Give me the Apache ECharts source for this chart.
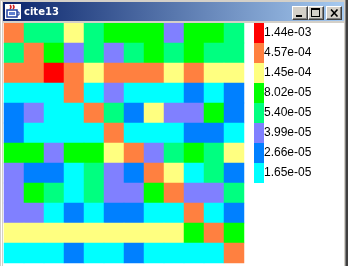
<!DOCTYPE html>
<html>
<head>
<meta charset="utf-8">
<script src="https://cdn.jsdelivr.net/npm/echarts@6/dist/echarts.min.js"></script>
<style>
  html, body { margin: 0; padding: 0; background: #ffffff; }
  #wrap { position: relative; width: 348px; height: 266px; overflow: hidden; background: #ffffff; }
  #chart { position: absolute; left: 0; top: 0; width: 348px; height: 266px; }
  .fr { position: absolute; }
  #title { position: absolute; left: 3px; top: 2px; width: 341px; height: 19px;
           background: linear-gradient(to right, #0A246A, #A6CAF0); }
  #ttext { position: absolute; left: 21px; top: 2px; font: bold 10px "DejaVu Sans"; color: #fff; line-height: 16px; }
  .btn { position: absolute; top: 4px; width: 16px; height: 14px; box-sizing: border-box; background: #D4D0C8;
         border-top: 1px solid #fff; border-left: 1px solid #fff; border-right: 1px solid #404040; border-bottom: 1px solid #404040;
         box-shadow: inset -1px -1px 0 #808080; }
  #icon { position: absolute; left: 2px; top: 2px; width: 16px; height: 15px; background: #fff; }
</style>
</head>
<body>
<div id="wrap">
  <div id="chart"></div>
  <div class="fr" style="left:0;top:0;width:348px;height:2px;background:#D4D0C8"></div>
  <div class="fr" style="left:0;top:0;width:3px;height:266px;background:#D4D0C8"></div>
  <div class="fr" style="left:1px;top:1px;width:1px;height:265px;background:#ffffff"></div>
  <div class="fr" style="left:344px;top:0;width:1px;height:266px;background:#D4D0C8"></div>
  <div class="fr" style="left:345px;top:0;width:1px;height:266px;background:#808080"></div>
  <div class="fr" style="left:346px;top:0;width:2px;height:266px;background:#404040"></div>
  <div class="fr" style="left:3px;top:21px;width:341px;height:2px;background:#D4D0C8"></div>
  <div id="title">
    <div id="icon">
      <svg width="16" height="15" viewBox="0 0 16 15">
        <path d="M5 1 q2 2 0 4 M8 1 q2 2 0 4" stroke="#d02020" stroke-width="1.5" fill="none"/>
        <rect x="2" y="6" width="10" height="7" fill="none" stroke="#2040a0" stroke-width="1.5"/>
        <path d="M12 8 h2 v3 h-2" stroke="#2040a0" fill="none"/>
        <rect x="4" y="8" width="6" height="3" fill="#6080d0"/>
      </svg>
    </div>
    <div id="ttext">cite13</div>
    <div class="btn" style="left:289px"><div style="position:absolute;left:3px;top:8px;width:6px;height:2px;background:#000"></div></div>
    <div class="btn" style="left:305px"><div style="position:absolute;left:2px;top:1px;width:9px;height:9px;box-sizing:border-box;border:1px solid #000;border-top-width:2px"></div></div>
    <div class="btn" style="left:323px"><svg style="position:absolute;left:3px;top:2px" width="9" height="8" viewBox="0 0 9 8"><path d="M1 0.5 L7.5 7.5 M7.5 0.5 L1 7.5" stroke="#000" stroke-width="1.6"/></svg></div>
  </div>
</div>
<script>
// Legend levels (value per colour class), labels and colours
const levels = [1.65e-05, 2.66e-05, 3.99e-05, 5.40e-05, 8.02e-05, 1.45e-04, 4.57e-04, 1.44e-03];
const levelLabels = ['1.65e-05', '2.66e-05', '3.99e-05', '5.40e-05', '8.02e-05', '1.45e-04', '4.57e-04', '1.44e-03'];
const levelColors = ['#00FFFF', '#0080FF', '#8080FF', '#00FF80', '#00FF00', '#FFFF80', '#FF8040', '#FF0000'];

// Cell classes (index into levels), one array per row, top to bottom
const row0  = [6, 3, 3, 5, 3, 4, 4, 4, 2, 4, 4, 3];
const row1  = [3, 6, 4, 2, 3, 2, 3, 4, 3, 4, 3, 3];
const row2  = [6, 6, 7, 6, 5, 6, 6, 6, 5, 6, 5, 5];
const row3  = [0, 0, 0, 6, 0, 2, 0, 0, 0, 1, 0, 1];
const row4  = [1, 2, 0, 0, 6, 3, 1, 5, 2, 2, 4, 1];
const row5  = [1, 0, 0, 0, 0, 6, 0, 0, 0, 1, 1, 0];
const row6  = [4, 4, 2, 4, 4, 5, 6, 2, 3, 4, 3, 5];
const row7  = [2, 1, 1, 0, 3, 2, 1, 6, 5, 0, 3, 1];
const row8  = [2, 4, 3, 0, 3, 2, 2, 4, 6, 2, 2, 3];
const row9  = [2, 2, 0, 1, 0, 1, 1, 0, 0, 6, 0, 1];
const row10 = [5, 5, 5, 5, 5, 5, 5, 5, 5, 4, 6, 4];
const row11 = [0, 0, 0, 1, 0, 0, 1, 0, 0, 0, 0, 6];
const rows = [row0, row1, row2, row3, row4, row5, row6, row7, row8, row9, row10, row11];

const xCats = row0.map((_, i) => String(i));
const yCats = rows.map((_, i) => String(i));
const data = [];
rows.forEach((r, y) => r.forEach((c, x) => data.push([x, y, levels[c]])));

const chart = echarts.init(document.getElementById('chart'), null, { renderer: 'canvas' });
chart.setOption({
  animation: false,
  backgroundColor: '#ffffff',
  grid: { left: 4, top: 23, width: 240, height: 240 },
  xAxis: { type: 'category', data: xCats, show: false },
  yAxis: { type: 'category', data: yCats, show: false, inverse: true },
  visualMap: {
    type: 'piecewise',
    orient: 'vertical',
    align: 'left',
    left: 254, top: 23,
    itemWidth: 10, itemHeight: 20, itemGap: 0,
    itemSymbol: 'rect',
    textGap: 0,
    hoverLink: false,
    selectedMode: false,
    padding: 0,
    textStyle: { color: '#000', fontSize: 12, fontFamily: 'Liberation Sans', padding: [0, 0, 8, 0] },
    pieces: levels.map((v, i) => ({ value: v, label: levelLabels[i], color: levelColors[i] }))
  },
  series: [{
    type: 'heatmap',
    data: data,
    itemStyle: { borderWidth: 0 },
    emphasis: { disabled: true }
  }]
});
</script>
</body>
</html>
